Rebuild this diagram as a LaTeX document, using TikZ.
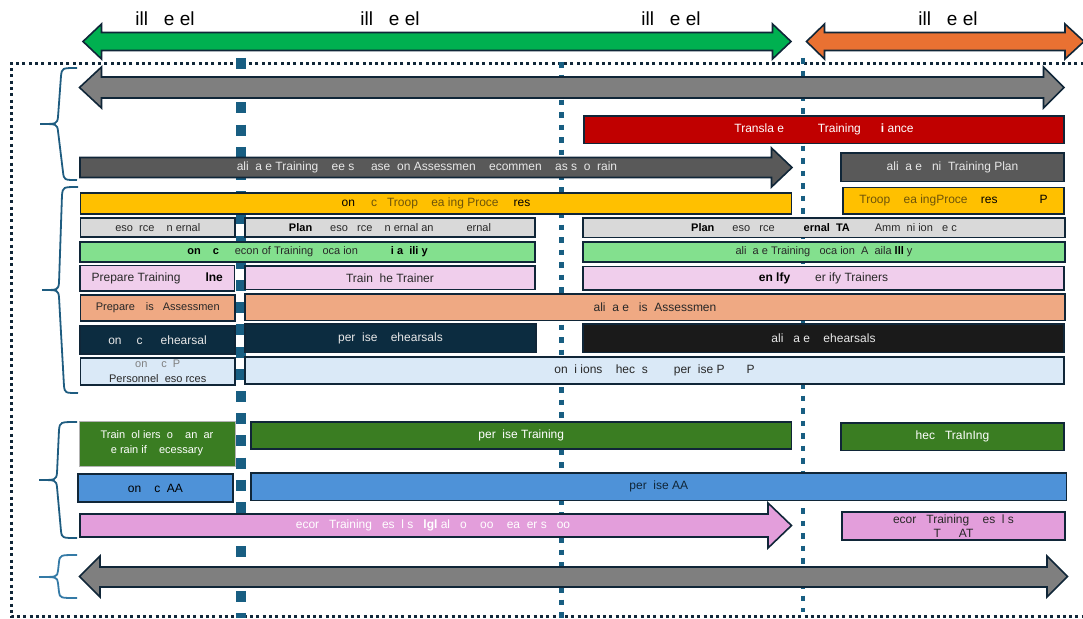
\documentclass[tikz,border=0pt]{standalone}
\usepackage{fontspec}
\setmainfont{Liberation Sans}
\usetikzlibrary{calc}
\definecolor{cedge}{RGB}{16,38,56}
\definecolor{cteal}{RGB}{24,94,130}
\definecolor{cbrace}{RGB}{30,92,128}
\definecolor{cbracel}{RGB}{52,122,166}
\definecolor{ctgreen}{RGB}{0,176,80}
\definecolor{corange}{RGB}{233,113,50}
\definecolor{cgray}{RGB}{127,127,127}
\definecolor{cred}{RGB}{192,0,0}
\definecolor{cdgray}{RGB}{89,89,89}
\definecolor{cyel}{RGB}{255,192,0}
\definecolor{clgray}{RGB}{217,217,217}
\definecolor{clgreen}{RGB}{131,224,142}
\definecolor{cpink}{RGB}{240,206,236}
\definecolor{csalmon}{RGB}{239,169,131}
\definecolor{cnavy}{RGB}{12,44,64}
\definecolor{cblk}{RGB}{26,26,26}
\definecolor{clblue}{RGB}{218,233,247}
\definecolor{cdkgreen}{RGB}{58,125,34}
\definecolor{cblue}{RGB}{78,146,216}
\definecolor{cpurp}{RGB}{227,158,219}
\definecolor{cbrown}{RGB}{110,84,10}
\definecolor{cltxt}{RGB}{232,232,232}
\definecolor{cdtxt}{RGB}{40,40,40}
\newcommand\sk[1]{\hspace*{#1pt}}
\newcommand\bx[8]{%
  \draw[box,#2] (#4,#5) rectangle (#6,#7);
  \node[lbl,#3] (#1) at ($(#4,#5)!0.5!(#6,#7)$) {#8};}
\begin{document}
\begin{tikzpicture}[x=1pt,y=-1pt,
  box/.style={draw=cedge,line width=1.6pt},
  lbl/.style={inner sep=0pt,align=center,font=\fontsize{12}{14}\selectfont},
  sm/.style={font=\fontsize{11}{13.5}\selectfont},
  arr/.style={draw=cedge,line width=1.6pt,line join=miter},
  brc/.style={draw=cbrace,line width=1.8pt},
  toplbl/.style={inner sep=0pt,font=\fontsize{19}{22}\selectfont},
  vline/.style={draw=cteal,line width=4.5pt,dash pattern=on 5.5pt off 7pt}]
\useasboundingbox (0,0) rectangle (1083,618);
% border
\draw[cedge,line width=3pt,dash pattern=on 3pt off 3.3pt] (1090,63.5) -- (11,63.5) -- (11,616.5) -- (1090,616.5);
% vertical guide lines
\draw[draw=cteal,line width=10pt,dash pattern=on 11pt off 11.2pt] (240.5,58) -- (240.5,618);
\draw[vline] (561.5,62) -- (561.5,618);
\draw[vline] (803,58) -- (803,612);
% top labels
\node[toplbl] (l1) at (165,19) {ill~~~e~el};
\node[toplbl] (l2) at (390,19) {ill~~~e~el};
\node[toplbl] (l3) at (671,19) {ill~~~e~el};
\node[toplbl] (l4) at (948,19) {ill~~~e~el};
% top arrows
\draw[arr,fill=ctgreen] (83,41.5) -- (101.5,24) -- (101.5,32.5) -- (772.5,32.5) -- (772.5,24) -- (791,41.5) -- (772.5,59) -- (772.5,50.5) -- (101.5,50.5) -- (101.5,59) -- cycle;
\draw[arr,fill=corange] (806.5,41.5) -- (824.5,24) -- (824.5,32.5) -- (1065,32.5) -- (1065,24) -- (1084,41.5) -- (1065,59) -- (1065,50.5) -- (824.5,50.5) -- (824.5,59) -- cycle;
% gray double arrows
\draw[arr,fill=cgray] (79.5,87.5) -- (101.5,67) -- (101.5,77) -- (1043.5,77) -- (1043.5,67) -- (1064,87.5) -- (1043.5,108) -- (1043.5,98) -- (101.5,98) -- (101.5,108) -- cycle;
\draw[arr,fill=cgray] (79.5,576.5) -- (100,556) -- (100,567) -- (1047,567) -- (1047,556) -- (1067.5,576.5) -- (1047,597) -- (1047,587) -- (100,587) -- (100,597) -- cycle;
% braces
\draw[brc] (77,68) .. controls (62,68) .. (61,76) -- (58,117) .. controls (57,124) .. (40,124) .. controls (57,124) .. (58,131) -- (63,172) .. controls (64,180) .. (77,180);
\draw[brc] (78,187) .. controls (63,187) .. (62,195) -- (59,283) .. controls (58,290) .. (42,290) .. controls (58,290) .. (59,297) -- (64,386) .. controls (65,393) .. (78,393);
\draw[brc] (77,422) .. controls (60,422) .. (59,430) -- (57,473) .. controls (56,480) .. (39,480) .. controls (56,480) .. (57,487) -- (61,531) .. controls (62,538) .. (77,538);
\draw[brc,draw=cbracel] (77,555) .. controls (60,555) .. (59,562) -- (58,571) .. controls (57,577) .. (39,577) .. controls (57,577) .. (58,583) -- (59,592) .. controls (60,598) .. (77,598);
% row: red
\bx{trans}{fill=cred}{text=white}{584}{116}{1064}{143.5}{Transla~e\sk{34}Training\sk{20}\textbf{i}~ance}
% row: validate arrow
\draw[arr,fill=cdgray] (80,157.5) -- (771.5,157.5) -- (771.5,148) -- (792,167.5) -- (771.5,187) -- (771.5,177.5) -- (80,177.5) -- cycle;
\node[lbl,text=cltxt] (valarr) at (427,167.5) {ali~~a~e Training~~~~ee~s~~~~~ase~~on Assessmen~~~~ecommen~~~~as~s~~o~~rain};
\bx{valplan}{fill=cdgray}{text=cltxt}{841}{153}{1064}{181.5}{ali~~a~e~~~ni~~Training Plan}
% row: yellow
\bx{tlpa}{fill=cyel}{text=black}{80.5}{193}{791.5}{214}{on\sk{16}\textcolor{cbrown}{c~~~Troop~~~~ea~ing Proce}\sk{15}res}
\bx{tlpb}{fill=cyel}{text=black}{843}{187.5}{1064}{214}{\textcolor{cbrown}{Troop~~~~ea~ingProce}~~~~res\sk{42}P}
% row: light gray
\bx{resa}{fill=clgray}{sm,text=cdtxt}{80.5}{218}{235}{237}{eso~~rce~~~~n~ernal}
\bx{resb}{fill=clgray}{sm,text=cdtxt}{245}{218}{535}{237}{\textcolor{black}{\textbf{Plan}}\sk{18}eso~~~rce~~~~n~ernal~an\sk{33}ernal}
\bx{resc}{fill=clgray}{sm,text=cdtxt}{583}{218}{1065}{237.5}{\textcolor{black}{\textbf{Plan}}\sk{18}eso~~~rce\sk{29}\textcolor{black}{\textbf{ernal~~TA}}\sk{25}Amm~~ni~ion~~~e~c}
% row: light green
\bx{reca}{fill=clgreen}{sm,text=cdtxt}{80}{242}{535}{262}{\textcolor{black}{\textbf{on\sk{12}c}}\sk{16}econ of Training~~~oca~ion\sk{33}\textcolor{black}{\textbf{i~a~~ili~y}}}
\bx{recb}{fill=clgreen}{sm,text=cdtxt}{583}{242}{1065}{262}{ali~~a~e Training~~~oca~ion~~A~~aila~\textcolor{black}{\textbf{lll}}~y}
% row: pink
\bx{prepa}{fill=cpink}{text=cdtxt}{80}{265.5}{234.5}{291}{Prepare Training\sk{25}\textcolor{black}{\textbf{lne}}}
\bx{ttt}{fill=cpink}{text=cdtxt}{245}{266}{535}{289.5}{Train~~he Trainer}
\bx{verif}{fill=cpink}{text=cdtxt}{583}{266.5}{1064}{290}{\textcolor{black}{\textbf{en~lfy}}\sk{25}er~ify Trainers}
% row: salmon
\bx{disa}{fill=csalmon}{sm,text=cdtxt}{80.5}{295}{235}{321}{Prepare\sk{11}is\sk{9}Assessmen}
\bx{disb}{fill=csalmon}{text=cdtxt}{245}{294}{1065}{320.5}{ali~~a~e~~~is~~Assessmen}
% row: navy/black
\bx{reha}{fill=cnavy}{text=cltxt}{80}{326}{235}{354}{on\sk{15}c\sk{18}ehearsal}
\bx{rehb}{fill=cnavy}{text=cltxt}{245}{324}{536}{352.5}{per~~ise~~~~ehearsals}
\bx{rehc}{fill=cblk}{text=cltxt}{583}{324}{1064}{352.5}{ali~~~a~e~~~~ehearsals}
% row: light blue
\bx{pera}{fill=clblue}{sm,text=cdtxt,font=\fontsize{11}{15}\selectfont}{80.5}{358}{235}{385}{\textcolor{gray}{on\sk{14}c~~P}\\Personnel~~eso~rces}
\bx{perb}{fill=clblue}{text=cdtxt}{245}{357}{1064}{384}{on~~i~ions~~~~hec~~s\sk{26}per~~ise~P\sk{22}P}
% row: dark green
\bx{trsol}{fill=cdkgreen,draw=gray!60,line width=0.8pt}{text=white,font=\fontsize{11}{15}\selectfont}{79}{421}{235}{466}{Train~~ol~iers~~o~~~~an~~ar\\e~rain~if~~~~ecessary}
\bx{suptr}{fill=cdkgreen}{text=white}{251}{422}{791.5}{449}{per~~ise Training}
\bx{chktr}{fill=cdkgreen}{text=white}{841}{423}{1064}{450.5}{hec~~~TraInIng}
% row: blue
\bx{aaa}{fill=cblue}{text=black}{78}{474}{233}{502}{on\sk{13}c~~AA}
\bx{aab}{fill=cblue}{text=cedge}{251}{473}{1066.5}{500.5}{per~~ise AA}
% row: purple
\draw[arr,fill=cpurp] (80,514) -- (768,514) -- (768,503) -- (791.5,525.5) -- (768,548) -- (768,537) -- (80,537) -- cycle;
\node[lbl,text=white] (recarr) at (433,525.5) {ecor~~~Training~~~es~~l~s~~~\textbf{lgl}~al~~~o~~~~oo~~~~ea~~er~s~~~oo};
\bx{recres}{fill=cpurp}{text=cdtxt,font=\fontsize{12}{13.5}\selectfont}{842}{512}{1065}{540}{ecor~~~Training~~~~es~~l~s\\T\sk{18}AT}
\end{tikzpicture}
\end{document}
